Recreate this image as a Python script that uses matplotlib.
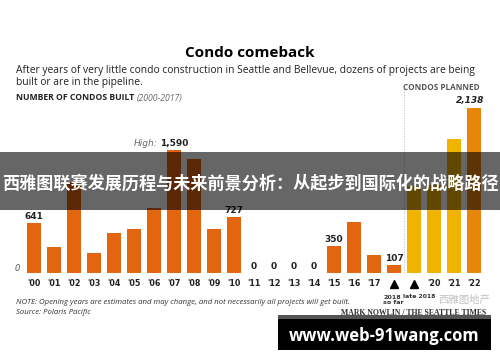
import matplotlib.pyplot as plt
from matplotlib.patches import Rectangle

# data
years = ["'00", "'01", "'02", "'03", "'04", "'05", "'06", "'07", "'08", "'09",
         "'10", "'11", "'12", "'13", "'14", "'15", "'16", "'17"]
built = [641, 340, 1180, 262, 521, 573, 836, 1590, 1469, 570,
         727, 0, 0, 0, 0, 350, 663, 232]
so_far_2018 = 107
planned_labels = ["'20", "'21", "'22"]
planned = [1130, 1140, 1727, 2138]   # late 2018, '20, '21, '22
labelled = {0: "641", 10: "727", 11: "0", 12: "0", 13: "0", 14: "0", 15: "350"}

W, H = 500, 362
fig = plt.figure(figsize=(5.0, 3.62), dpi=100)
fig.patch.set_facecolor("white")

def px(x, y):
    return x / W, 1 - y / H

base_y = 273
scale = 123 / 1590  # px per condo
ax = fig.add_axes([0, (H - base_y) / H, 1, base_y / H])
ax.set_xlim(-34 / 20, (W - 34) / 20)
ax.set_ylim(0, base_y / scale)
ax.axis("off")

orange = "#e2650f"
yellow = "#f0b400"
orange2 = "#e8860a"
bw = 0.72

xs = list(range(len(built)))
ax.bar(xs, built, width=bw, color=orange)
ax.bar([18], [so_far_2018], width=bw, color=orange)
ax.bar([19, 20, 21], planned[:3], width=bw, color=yellow)
ax.bar([22], planned[3:], width=bw, color=orange2)
ax.plot([-0.5, 22.5], [0, 0], color="#cccccc", lw=0.8)
ax.plot([18.5, 18.5], [0, 2390], color="#bbbbbb", lw=0.7, ls=":")

for i, t in labelled.items():
    ax.text(i, built[i] + 25, t, ha="center", va="bottom", fontsize=6.5,
            fontweight="bold", color="#222222")
ax.text(18, so_far_2018 + 25, "107", ha="center", va="bottom", fontsize=6.5,
        fontweight="bold", color="#222222")
ax.text(6.15, 1590 + 25, "High:", ha="right", va="bottom", fontsize=6.5,
        style="italic", color="#666666")
ax.text(6.3, 1590 + 25, "1,590", ha="left", va="bottom", fontsize=6.5,
        fontweight="bold", color="#222222")
ax.text(22.5, 2138 + 40, "2,138", ha="right", va="bottom", fontsize=6.5,
        fontweight="bold", style="italic", color="#222222")
ax.text(-0.7, 0, "0", ha="right", va="bottom", fontsize=6, style="italic",
        color="#555555")

tick_labels = years + ["", ""] + planned_labels
for i, t in enumerate(tick_labels):
    ax.text(i, -140, t, ha="center", va="center", fontsize=5.8,
            fontweight="bold", color="#222222")
ax.plot([18, 19], [-140, -140], ls="none", marker="^", color="black", ms=5.5,
        clip_on=False)

# header
fig.text(*px(250, 53), "Condo comeback", ha="center", va="center",
         fontsize=11, fontweight="bold", family="Open Sans")
fig.text(*px(16, 71), "After years of very little condo construction in Seattle and Bellevue, dozens of projects are being",
         ha="left", va="center", fontsize=7.4, family="Open Sans", color="#222222")
fig.text(*px(16, 83), "built or are in the pipeline.", ha="left", va="center",
         fontsize=7.4, family="Open Sans", color="#222222")
fig.text(*px(16, 98), "NUMBER OF CONDOS BUILT", ha="left", va="center",
         fontsize=6.2, fontweight="bold", family="Open Sans", color="#222222")
fig.text(*px(137, 98), "(2000-2017)", ha="left", va="center",
         fontsize=6.2, style="italic", family="Open Sans", color="#666666")
fig.text(*px(441, 88), "CONDOS PLANNED", ha="center", va="center",
         fontsize=5.9, fontweight="bold", family="Open Sans", color="#555555")

# footer
fig.text(*px(16, 302), "NOTE: Opening years are estimates and may change, and not necessarily all projects will get built.",
         ha="left", va="center", fontsize=5.6, style="italic", family="Open Sans", color="#333333")
fig.text(*px(16, 313), "Source: Polaris Pacific", ha="left", va="center",
         fontsize=5.6, style="italic", family="Open Sans", color="#333333")
fig.text(*px(486, 313), "MARK NOWLIN / THE SEATTLE TIMES", ha="right", va="center",
         fontsize=5.6, fontweight="bold", family="Liberation Serif", color="#333333")
fig.text(*px(383, 300), "2018\nso far", ha="left", va="center", fontsize=4.6,
         fontweight="bold", color="#333333", linespacing=1.2)
fig.text(*px(403, 296), "late 2018", ha="left", va="center", fontsize=4.4,
         fontweight="bold", color="#333333")
fig.text(*px(464, 300), "西雅图地产", ha="center", va="center", fontsize=7.5,
         family=["Noto Sans CJK SC", "DejaVu Sans"], color="#bbbbbb", alpha=0.9)

# overlay banner
fig.add_artist(Rectangle(px(0, 210), 1, 58 / H, transform=fig.transFigure,
                         facecolor="black", alpha=0.6, lw=0))
fig.text(*px(250, 184), "西雅图联赛发展历程与未来前景分析：从起步到国际化的战略路径",
         ha="center", va="center", fontsize=12.3, fontweight="bold", color="white",
         family=["Noto Sans CJK SC", "DejaVu Sans"])

# bottom black box
fig.add_artist(Rectangle(px(278, 350), 213 / W, 35 / H, transform=fig.transFigure,
                         facecolor="black", lw=0))
fig.add_artist(Rectangle(px(278, 319), 213 / W, 4 / H, transform=fig.transFigure,
                         facecolor="#555555", lw=0))
fig.text(*px(384, 336), "www.web-91wang.com", ha="center", va="center",
         fontsize=12, fontweight="bold", color="white", family="Open Sans")

fig.savefig("out.png", dpi=100)
